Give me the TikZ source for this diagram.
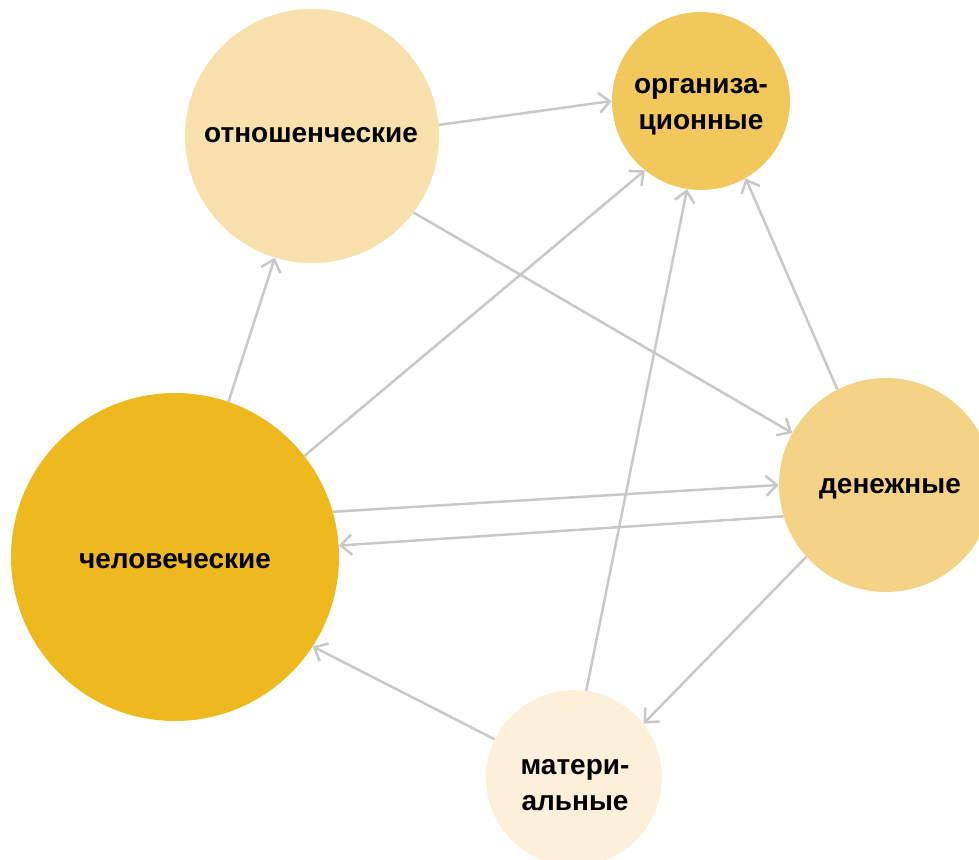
\documentclass[tikz,border=0pt]{standalone}
\usepackage{fontspec}
\setmainfont{Liberation Sans}
\usetikzlibrary{arrows.meta}
\definecolor{cChel}{HTML}{EDB91F}
\definecolor{cOrg}{HTML}{F2C75B}
\definecolor{cDen}{HTML}{F5D386}
\definecolor{cOtn}{HTML}{F9E1AD}
\definecolor{cMat}{HTML}{FDF0DA}
\definecolor{cLine}{HTML}{C8C8C8}
\tikzset{
  bubble/.style={circle, inner sep=0pt, draw=none, align=center,
    font=\fontsize{28}{36}\selectfont\bfseries, text=black},
  link/.style={draw=cLine, line width=2.5pt,
    -{Straight Barb[length=11pt,width=20pt,line width=2.5pt]}}
}
\begin{document}
\begin{tikzpicture}[x=1pt,y=-1pt]
\useasboundingbox (0,0) rectangle (979,859);
\begin{scope}
\clip (0,0) rectangle (979,859);
\node[bubble, fill=cOtn, minimum size=254pt] (otn) at (312,136) {};
\node[bubble, fill=cOrg, minimum size=178pt] (org) at (701,101) {};
\node[bubble, fill=cChel, minimum size=328pt] (chel) at (175,557) {};
\node[bubble, fill=cDen, minimum size=214pt] (den) at (886,485) {};
\node[bubble, fill=cMat, minimum size=176pt] (mat) at (574,778) {};
\end{scope}
\node[bubble] (totn) at (311,135) {отношенческие};
\node[bubble] (torg) at (701,107) {организа-\\ционные};
\node[bubble] (tchel) at (175,561) {человеческие};
\node[bubble] (tden) at (890,489) {денежные};
\node[bubble] (tmat) at (575,785) {матери-\\альные};
\draw[link] (otn.5) -- (org.180);
\draw[link] (chel.71) -- (otn.-107);
\draw[link] (chel.38.8) -- (org.-129);
\draw[link] (otn.-37.8) -- (den.151.6);
\draw[link] (chel.16.2) -- (den.180);
\draw[link] (den.197.3) -- (chel.4.6);
\draw[link] (den.117.3) -- (org.-60.9);
\draw[link] (mat.82.2) -- (org.-99.6);
\draw[link] (den.-138.4) -- (mat.38.6);
\draw[link] (mat.154.6) -- (chel.-33.3);
\end{tikzpicture}
\end{document}
